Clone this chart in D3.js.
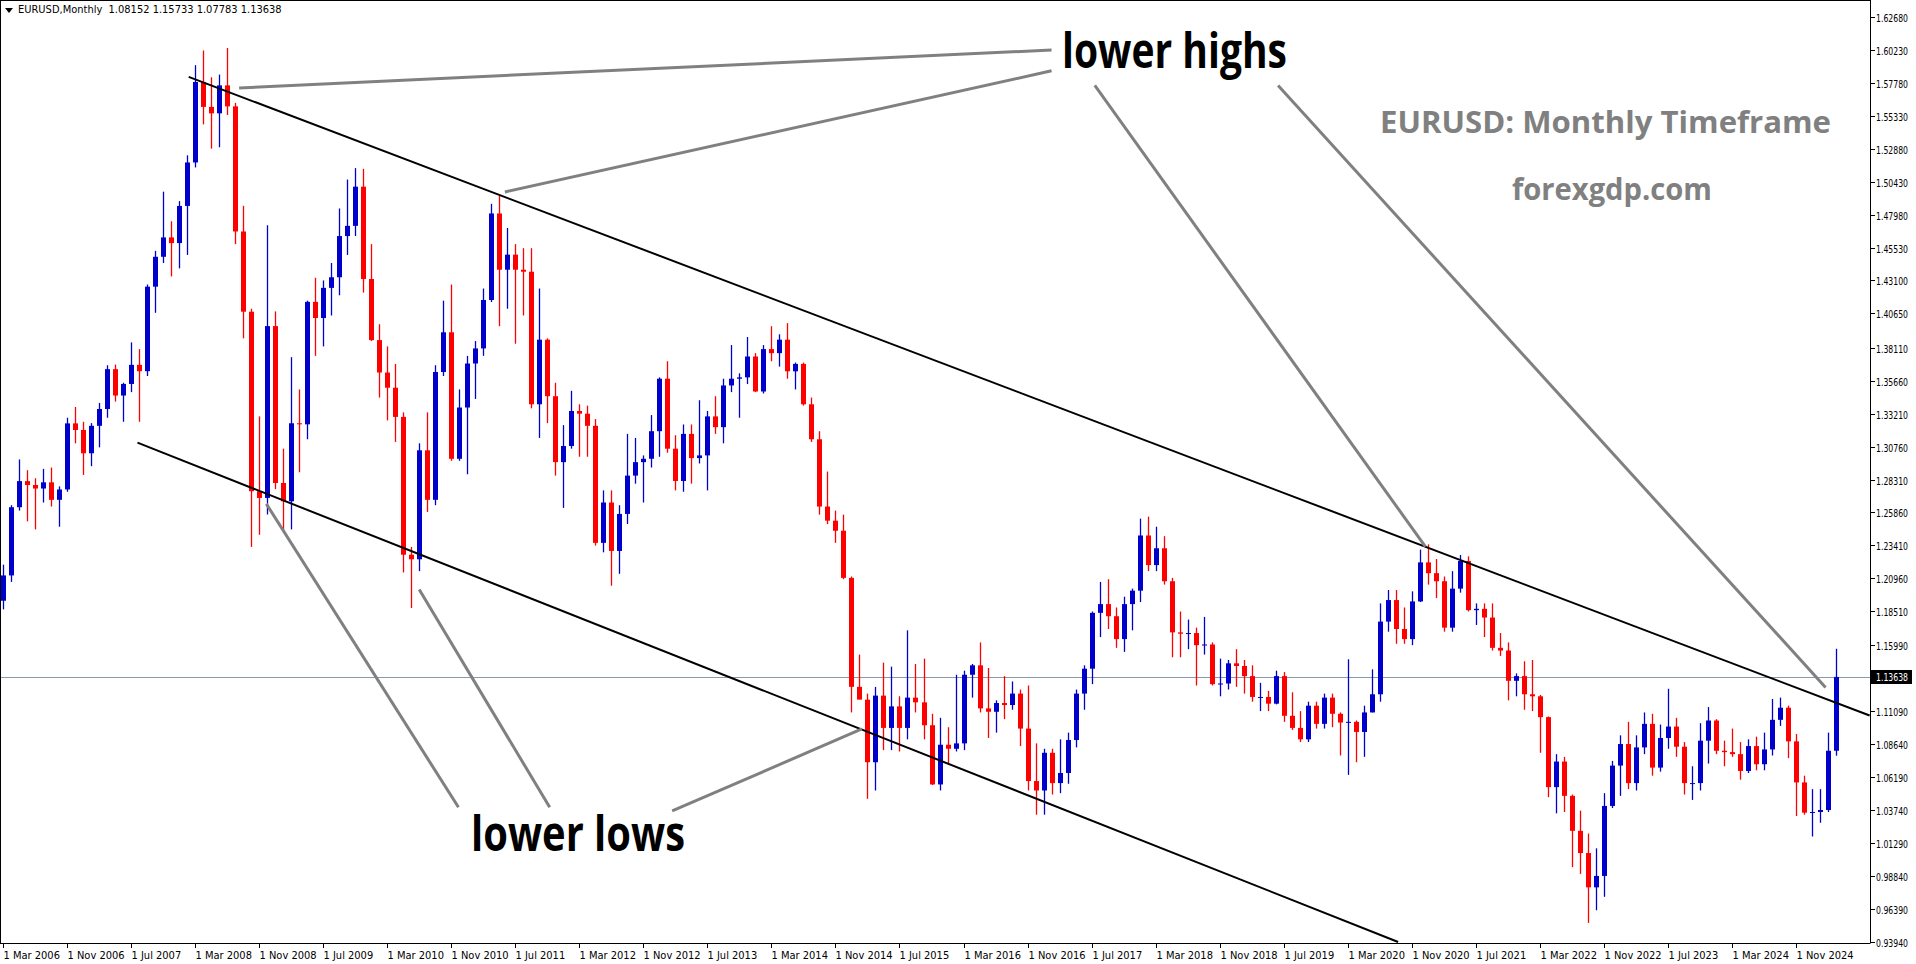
<!DOCTYPE html>
<html><head><meta charset="utf-8">
<script src="https://cdn.jsdelivr.net/npm/d3@7"></script>
<style>body{margin:0;background:#fff;overflow:hidden}svg{display:block}</style>
</head><body><svg id="c" width="1916" height="964"></svg>
<script>
// Monthly EURUSD candles from Mar 2006 to Apr 2025: [open, high, low, close]
const startYear = 2006, startMonth = 2; // March 2006 (0-based month)
const ohlc = [
[1.1930,1.2198,1.1866,1.2118],[1.2118,1.2640,1.2070,1.2625],[1.2625,1.2980,1.2600,1.2819],[1.2819,1.2900,1.2520,1.2790],[1.2790,1.2840,1.2460,1.2764],[1.2764,1.2910,1.2660,1.2810],[1.2810,1.2920,1.2630,1.2680],[1.2680,1.2780,1.2480,1.2757],[1.2757,1.3290,1.2740,1.3248],[1.3248,1.3370,1.3100,1.3199],
[1.3199,1.3260,1.2865,1.3026],[1.3026,1.3250,1.2930,1.3230],[1.3230,1.3400,1.3070,1.3355],[1.3355,1.3680,1.3290,1.3651],[1.3651,1.3685,1.3410,1.3455],[1.3455,1.3550,1.3260,1.3541],[1.3541,1.3850,1.3480,1.3683],[1.3683,1.3800,1.3260,1.3636],[1.3636,1.4280,1.3600,1.4264],[1.4264,1.4530,1.4070,1.4486],[1.4486,1.4970,1.4440,1.4630],[1.4630,1.4750,1.4340,1.4588],
[1.4588,1.4900,1.4400,1.4864],[1.4864,1.5240,1.4500,1.5187],[1.5187,1.5910,1.5150,1.5785],[1.5785,1.6019,1.5470,1.5600],[1.5600,1.5820,1.5290,1.5552],[1.5552,1.5840,1.5300,1.5760],[1.5760,1.6038,1.5540,1.5604],[1.5604,1.5630,1.4580,1.4674],[1.4674,1.4865,1.3880,1.4078],[1.4078,1.4100,1.2330,1.2744],[1.2744,1.3300,1.2420,1.2694],[1.2694,1.4720,1.2570,1.3971],
[1.3971,1.4080,1.2760,1.2805],[1.2805,1.3060,1.2450,1.2669],[1.2669,1.3740,1.2460,1.3249],[1.3249,1.3500,1.2885,1.3241],[1.3241,1.4160,1.3130,1.4151],[1.4151,1.4330,1.3750,1.4031],[1.4031,1.4310,1.3820,1.4255],[1.4255,1.4440,1.4050,1.4334],[1.4334,1.4845,1.4200,1.4640],[1.4640,1.5060,1.4500,1.4716],[1.4716,1.5145,1.4640,1.5007],[1.5007,1.5140,1.4220,1.4321],
[1.4321,1.4580,1.3860,1.3867],[1.3867,1.3985,1.3440,1.3626],[1.3626,1.3820,1.3270,1.3513],[1.3513,1.3690,1.3110,1.3296],[1.3296,1.3330,1.2140,1.2272],[1.2272,1.2330,1.1876,1.2238],[1.2238,1.3100,1.2150,1.3048],[1.3048,1.3330,1.2590,1.2680],[1.2680,1.3680,1.2640,1.3630],[1.3630,1.4160,1.3600,1.3925],[1.3925,1.4280,1.2970,1.2985],[1.2985,1.3500,1.2970,1.3366],
[1.3366,1.3750,1.2870,1.3693],[1.3693,1.3860,1.3430,1.3805],[1.3805,1.4250,1.3750,1.4165],[1.4165,1.4880,1.4150,1.4808],[1.4808,1.4940,1.3970,1.4390],[1.4390,1.4700,1.4100,1.4502],[1.4502,1.4580,1.3840,1.4390],[1.4390,1.4550,1.4050,1.4375],[1.4375,1.4550,1.3360,1.3390],[1.3390,1.4250,1.3140,1.3870],[1.3870,1.3880,1.3250,1.3450],[1.3450,1.3550,1.2860,1.2960],
[1.2960,1.3235,1.2620,1.3080],[1.3080,1.3490,1.3060,1.3340],[1.3340,1.3390,1.3000,1.3320],[1.3320,1.3380,1.3000,1.3230],[1.3230,1.3280,1.2340,1.2360],[1.2360,1.2750,1.2290,1.2660],[1.2660,1.2750,1.2042,1.2300],[1.2300,1.2640,1.2130,1.2575],[1.2575,1.3170,1.2500,1.2860],[1.2860,1.3140,1.2800,1.2960],[1.2960,1.3010,1.2660,1.2985],[1.2985,1.3310,1.2920,1.3190],
[1.3190,1.3590,1.3000,1.3580],[1.3580,1.3710,1.3030,1.3060],[1.3060,1.3160,1.2750,1.2820],[1.2820,1.3240,1.2740,1.3170],[1.3170,1.3240,1.2800,1.2990],[1.2990,1.3420,1.2950,1.3010],[1.3010,1.3340,1.2750,1.3300],[1.3300,1.3450,1.3170,1.3220],[1.3220,1.3580,1.3100,1.3530],[1.3530,1.3830,1.3480,1.3580],[1.3580,1.3620,1.3290,1.3590],[1.3590,1.3890,1.3540,1.3745],
[1.3745,1.3770,1.3480,1.3485],[1.3485,1.3830,1.3470,1.3800],[1.3800,1.3970,1.3710,1.3770],[1.3770,1.3910,1.3670,1.3870],[1.3870,1.3993,1.3580,1.3635],[1.3635,1.3700,1.3500,1.3690],[1.3690,1.3700,1.3380,1.3390],[1.3390,1.3440,1.3110,1.3130],[1.3130,1.3190,1.2570,1.2630],[1.2630,1.2890,1.2500,1.2525],[1.2525,1.2600,1.2360,1.2450],[1.2450,1.2570,1.2090,1.2100],
[1.2100,1.2110,1.1100,1.1290],[1.1290,1.1530,1.1260,1.1195],[1.1195,1.1240,1.0458,1.0730],[1.0730,1.1290,1.0520,1.1225],[1.1225,1.1470,1.0820,1.0985],[1.0985,1.1440,1.0820,1.1145],[1.1145,1.1220,1.0810,1.0985],[1.0985,1.1710,1.0900,1.1210],[1.1210,1.1460,1.1100,1.1175],[1.1175,1.1500,1.0900,1.1005],[1.1005,1.1090,1.0560,1.0565],[1.0565,1.1060,1.0520,1.0860],
[1.0860,1.0990,1.0710,1.0830],[1.0830,1.1380,1.0810,1.0870],[1.0870,1.1410,1.0820,1.1380],[1.1380,1.1460,1.1210,1.1450],[1.1450,1.1620,1.1100,1.1130],[1.1130,1.1430,1.0910,1.1105],[1.1105,1.1190,1.0950,1.1170],[1.1170,1.1370,1.1050,1.1155],[1.1155,1.1330,1.1120,1.1240],[1.1240,1.1270,1.0850,1.0980],[1.0980,1.1300,1.0520,1.0590],[1.0590,1.0870,1.0340,1.0520],
[1.0520,1.0830,1.0340,1.0800],[1.0800,1.0830,1.0490,1.0575],[1.0575,1.0900,1.0500,1.0650],[1.0650,1.0950,1.0570,1.0895],[1.0895,1.1270,1.0840,1.1240],[1.1240,1.1450,1.1120,1.1425],[1.1425,1.1850,1.1310,1.1840],[1.1840,1.2070,1.1660,1.1905],[1.1905,1.2090,1.1720,1.1815],[1.1815,1.1880,1.1580,1.1645],[1.1645,1.1960,1.1550,1.1905],[1.1905,1.2020,1.1710,1.2005],
[1.2005,1.2540,1.1920,1.2415],[1.2415,1.2555,1.2150,1.2195],[1.2195,1.2480,1.2150,1.2320],[1.2320,1.2410,1.2050,1.2075],[1.2075,1.2100,1.1510,1.1695],[1.1695,1.1850,1.1510,1.1685],[1.1685,1.1790,1.1570,1.1690],[1.1690,1.1730,1.1300,1.1600],[1.1600,1.1810,1.1530,1.1605],[1.1605,1.1620,1.1300,1.1310],[1.1310,1.1500,1.1220,1.1315],[1.1315,1.1490,1.1270,1.1465],
[1.1465,1.1570,1.1290,1.1445],[1.1445,1.1490,1.1240,1.1370],[1.1370,1.1450,1.1180,1.1215],[1.1215,1.1320,1.1110,1.1215],[1.1215,1.1260,1.1110,1.1165],[1.1165,1.1410,1.1160,1.1370],[1.1370,1.1400,1.1030,1.1075],[1.1075,1.1250,1.0970,1.0985],[1.0985,1.1110,1.0880,1.0900],[1.0900,1.1180,1.0880,1.1150],[1.1150,1.1180,1.0980,1.1015],[1.1015,1.1240,1.0980,1.1210],
[1.1210,1.1240,1.0990,1.1090],[1.1090,1.1100,1.0780,1.1025],[1.1025,1.1495,1.0636,1.1030],[1.1030,1.1040,1.0730,1.0955],[1.0955,1.1150,1.0770,1.1100],[1.1100,1.1420,1.1100,1.1235],[1.1235,1.1910,1.1180,1.1775],[1.1775,1.2010,1.1700,1.1935],[1.1935,1.2010,1.1610,1.1720],[1.1720,1.1880,1.1610,1.1645],[1.1645,1.2000,1.1600,1.1925],[1.1925,1.2310,1.1920,1.2215],
[1.2215,1.2349,1.2050,1.2135],[1.2135,1.2240,1.1950,1.2075],[1.2075,1.2110,1.1700,1.1730],[1.1730,1.2150,1.1700,1.2020],[1.2020,1.2270,1.1990,1.2225],[1.2225,1.2260,1.1850,1.1860],[1.1860,1.1910,1.1750,1.1870],[1.1870,1.1910,1.1660,1.1805],[1.1805,1.1910,1.1560,1.1580],[1.1580,1.1690,1.1520,1.1560],[1.1560,1.1620,1.1190,1.1335],[1.1335,1.1390,1.1220,1.1370],
[1.1370,1.1480,1.1120,1.1235],[1.1235,1.1490,1.1110,1.1220],[1.1220,1.1230,1.0800,1.1065],[1.1065,1.1070,1.0470,1.0545],[1.0545,1.0790,1.0350,1.0735],[1.0735,1.0770,1.0360,1.0480],[1.0480,1.0490,0.9950,1.0220],[1.0220,1.0370,0.9900,1.0055],[1.0055,1.0200,0.9536,0.9800],[0.9800,1.0090,0.9630,0.9885],[0.9885,1.0500,0.9730,1.0405],[1.0405,1.0740,1.0390,1.0705],
[1.0705,1.0930,1.0480,1.0865],[1.0865,1.1030,1.0530,1.0575],[1.0575,1.0930,1.0520,1.0840],[1.0840,1.1100,1.0790,1.1015],[1.1015,1.1090,1.0630,1.0690],[1.0690,1.1010,1.0660,1.0910],[1.0910,1.1276,1.0830,1.0995],[1.0995,1.1060,1.0770,1.0845],[1.0845,1.0880,1.0490,1.0575],[1.0575,1.0700,1.0450,1.0575],[1.0575,1.1020,1.0520,1.0890],[1.0890,1.1140,1.0720,1.1040],
[1.1040,1.1050,1.0790,1.0815],[1.0815,1.0890,1.0700,1.0805],[1.0805,1.0980,1.0770,1.0790],[1.0790,1.0880,1.0600,1.0665],[1.0665,1.0900,1.0650,1.0850],[1.0850,1.0920,1.0670,1.0715],[1.0715,1.0950,1.0670,1.0825],[1.0825,1.1200,1.0780,1.1045],[1.1045,1.1210,1.1000,1.1135],[1.1135,1.1150,1.0760,1.0885],[1.0885,1.0940,1.0330,1.0580],[1.0580,1.0630,1.0340,1.0355],
[1.0355,1.0530,1.0178,1.0360],[1.0360,1.0530,1.0280,1.0375],[1.0375,1.0950,1.0360,1.0815],[1.08152,1.15733,1.07783,1.13638]
];
const priceTicks = ["1.62680","1.60230","1.57780","1.55330","1.52880","1.50430","1.47980","1.45530","1.43100","1.40650","1.38110","1.35660","1.33210","1.30760","1.28310","1.25860","1.23410","1.20960","1.18510","1.15990","1.11090","1.08640","1.06190","1.03740","1.01290","0.98840","0.96390","0.93940"];
const currentPrice = 1.13638;
const monthNames = ["Jan","Feb","Mar","Apr","May","Jun","Jul","Aug","Sep","Oct","Nov","Dec"];
// channel lines: [monthIndex, price]
const upperChannel = [[23.2,1.5823],[233.2,1.1077]];
const lowerChannel = [[16.8,1.3105],[174.3,0.9394]];
// annotation pointer lines: [[idx,price],[idx,price]]
const pointers = [
 [[29.5,1.5741],[131.0,1.6023]],[[62.7,1.4968],[131.0,1.5868]],
 [[136.4,1.5759],[177.7,1.2332]],[[159.3,1.5759],[227.7,1.1286]],
 [[56.9,1.0395],[32.9,1.2650]],[[68.3,1.0395],[52.0,1.2014]],[[83.6,1.0368],[107.3,1.0977]]
];

const svg = d3.select("#c");
const plotR = 1870, plotB = 943;
const x = d3.scaleLinear().domain([0, ohlc.length-1]).range([3, 1836]);
const y = d3.scaleLinear().domain([0.9394, 1.6268]).range([942, 17]);
const bull = "#0000cd", bear = "#ff0000";
const AX = "Tahoma, 'DejaVu Sans Condensed', 'Liberation Sans', sans-serif";

const g = svg.append("g");
svg.append("clipPath").attr("id","cp").append("rect").attr("x",0).attr("y",0).attr("width",plotR).attr("height",plotB);
const pg = g.append("g").attr("clip-path","url(#cp)");

pg.append("line").attr("x1",0).attr("x2",plotR).attr("y1",Math.round(y(currentPrice))+0.5).attr("y2",Math.round(y(currentPrice))+0.5).attr("stroke","#8a9aa8").attr("stroke-width",1);

const cg = pg.selectAll("g.c").data(ohlc).join("g");
cg.append("line").attr("x1",(d,i)=>Math.round(x(i))+0.5).attr("x2",(d,i)=>Math.round(x(i))+0.5)
  .attr("y1",d=>y(d[1])).attr("y2",d=>y(d[2])).attr("stroke",d=>d[3]>=d[0]?bull:bear).attr("stroke-width",1.3);
cg.append("rect").attr("x",(d,i)=>Math.round(x(i))-2).attr("width",5)
  .attr("y",d=>y(Math.max(d[0],d[3]))).attr("height",d=>Math.max(1,Math.abs(y(d[0])-y(d[3]))))
  .attr("fill",d=>d[3]>=d[0]?bull:bear);

[upperChannel, lowerChannel].forEach(c=>{
  pg.append("line").attr("x1",x(c[0][0])).attr("y1",y(c[0][1])).attr("x2",x(c[1][0])).attr("y2",y(c[1][1]))
    .attr("stroke","#000").attr("stroke-width",2);
});
pointers.forEach(p=>{
  pg.append("line").attr("x1",x(p[0][0])).attr("y1",y(p[0][1])).attr("x2",x(p[1][0])).attr("y2",y(p[1][1]))
    .attr("stroke","#808080").attr("stroke-width",3);
});

const F = "'Open Sans', Lato, sans-serif";
function label(t, xx, yy, w, size, fill){
  g.append("text").attr("x",xx).attr("y",yy).text(t).attr("font-family",F).attr("font-size",size)
   .attr("font-weight","bold").attr("fill",fill).attr("textLength",w).attr("lengthAdjust","spacingAndGlyphs");
}
label("lower highs", 1062, 68, 225, 48, "#000");
label("lower lows", 471, 851, 214, 48, "#000");
label("EURUSD: Monthly Timeframe", 1380, 133, 451, 31, "#808080");
label("forexgdp.com", 1512, 200, 200, 31, "#808080");

g.append("path").attr("d","M5,8 L13,8 L9,13 Z").attr("fill","#000");
g.append("text").attr("x",18).attr("y",13).text("EURUSD,Monthly  1.08152 1.15733 1.07783 1.13638").attr("font-family",AX).attr("font-size",11).attr("fill","#000").style("white-space","pre");

g.append("line").attr("x1",plotR+0.5).attr("x2",plotR+0.5).attr("y1",0).attr("y2",plotB).attr("stroke","#000");
g.append("line").attr("x1",0).attr("x2",plotR+0.5).attr("y1",plotB+0.5).attr("y2",plotB+0.5).attr("stroke","#000");
g.append("line").attr("x1",0.5).attr("x2",0.5).attr("y1",0).attr("y2",plotB).attr("stroke","#000");
g.append("line").attr("x1",0).attr("x2",plotR).attr("y1",0.5).attr("y2",0.5).attr("stroke","#000");

function axText(t, xx, yy, fill){
  g.append("text").attr("x",xx).attr("y",yy).text(t).attr("font-family",AX).attr("font-size",10.5).attr("fill",fill)
   .attr("textLength",32).attr("lengthAdjust","spacingAndGlyphs");
}
priceTicks.forEach(t=>{
  const yy = Math.round(y(+t))+0.5;
  g.append("line").attr("x1",plotR).attr("x2",plotR+5).attr("y1",yy).attr("y2",yy).attr("stroke","#000");
  axText(t, plotR+6, yy+4, "#000");
});
const cy = Math.round(y(currentPrice));
g.append("rect").attr("x",plotR+1).attr("y",cy-7).attr("width",41).attr("height",14).attr("fill","#000");
axText(currentPrice.toFixed(5), plotR+6, cy+4, "#fff");

for (let i=0;i<ohlc.length;i+=8){
  const m = (startMonth + i) % 12, yr = startYear + Math.floor((startMonth + i)/12);
  const xx = Math.round(x(i))+0.5;
  g.append("line").attr("x1",xx).attr("x2",xx).attr("y1",plotB).attr("y2",plotB+5).attr("stroke","#000");
  g.append("text").attr("x",xx).attr("y",plotB+16).text(`1 ${monthNames[m]} ${yr}`).attr("font-family",AX).attr("font-size",11).attr("fill","#000");
}
</script></body></html>
